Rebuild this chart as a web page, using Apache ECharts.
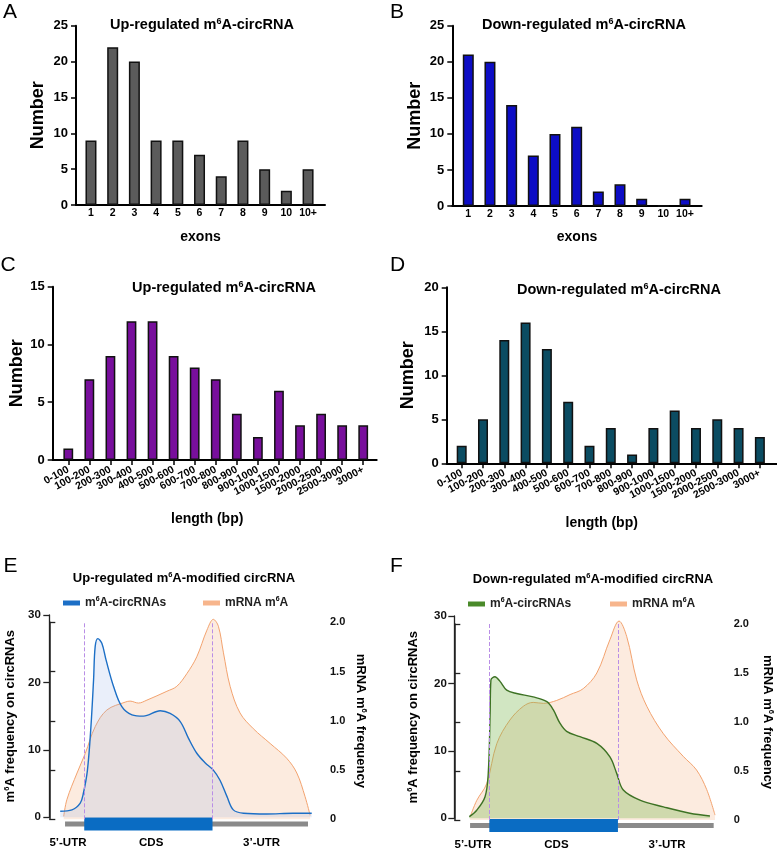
<!DOCTYPE html>
<html>
<head>
<meta charset="utf-8">
<script src="https://cdn.jsdelivr.net/npm/echarts@6/dist/echarts.min.js"></script>
<style>
html, body { margin: 0; padding: 0; background: #fff; }
#main { width: 777px; height: 851px; }
</style>
</head>
<body>
<div id="main"></div>
<script>
// exon number distribution
var exonCats = ['1', '2', '3', '4', '5', '6', '7', '8', '9', '10', '10+'];
var upExons = [9, 22, 20, 9, 9, 7, 4, 9, 5, 2, 5];
var downExons = [21, 20, 14, 7, 10, 11, 2, 3, 1, 0, 1];

// length distribution
var lenCats = ['0-100', '100-200', '200-300', '300-400', '400-500', '500-600', '600-700', '700-800',
  '800-900', '900-1000', '1000-1500', '1500-2000', '2000-2500', '2500-3000', '3000+'];
var upLength = [1, 7, 9, 12, 12, 9, 8, 7, 4, 2, 6, 3, 4, 3, 3];
var downLength = [2, 5, 14, 16, 13, 7, 2, 4, 1, 4, 6, 4, 5, 4, 3];

// metagene profiles, x = relative position along the transcript (0-100)
var upCircX = [4.1, 8.5, 11.6, 12.8, 14.3, 15.6, 16.6, 17.2, 18.2, 19.7, 21.3, 24.1, 27.2, 31, 35.3, 41.6, 45.3, 49.1, 52.2, 55.3, 58.4, 61.5, 64, 66.6, 69, 72.8, 81.5, 91.4, 98.4];
var upCircY = [0.9, 1.1, 2.1, 3.6, 7, 13.4, 20.4, 25.3, 26.5, 25.8, 23.3, 19.4, 16.4, 15.2, 15.0, 15.8, 15.4, 14.2, 11.7, 9.5, 8.1, 7.0, 5.5, 3.1, 1.1, 0.6, 0.5, 0.6, 0.6];
var upMrnaX = [5.4, 6.6, 10.4, 13.5, 17.2, 21.6, 28.5, 30.3, 33.4, 36.6, 44.1, 47.8, 51.6, 55.3, 59.1, 61.5, 63.4, 65.3, 67.8, 71.5, 76.5, 82.8, 89, 92.8, 95.9, 97.8];
var upMrnaY = [0.03, 0.2, 0.47, 0.67, 0.94, 1.11, 1.19, 1.20, 1.18, 1.21, 1.30, 1.35, 1.48, 1.65, 1.92, 2.03, 1.96, 1.69, 1.35, 1.08, 0.92, 0.77, 0.62, 0.47, 0.23, 0.04];
var downCircX = [5.6, 8.4, 11.5, 12.7, 13.4, 13.7, 15.2, 17.1, 19.6, 23.3, 29.5, 34.6, 37, 39.5, 42, 47, 53.3, 58.2, 60.7, 63.2, 69.4, 78.2, 88.1, 95.6];
var downCircY = [0.24, 1.2, 3.2, 6.7, 15.6, 20.5, 21.0, 20.3, 19.0, 18.5, 18.0, 17.3, 16.1, 14.1, 12.9, 12.1, 11.1, 9.1, 6.7, 4.2, 2.7, 1.7, 0.74, 0.34];
var downMrnaX = [5.9, 8.4, 12.1, 15.9, 20.8, 25.8, 29.5, 33.3, 38.3, 43.3, 48.2, 53.3, 58.2, 61.6, 64.5, 68.2, 72, 78.2, 85.6, 90.6, 94.4, 97.5];
var downMrnaY = [0.03, 0.2, 0.37, 0.78, 1.02, 1.16, 1.2, 1.19, 1.22, 1.28, 1.34, 1.50, 1.84, 2.03, 1.87, 1.43, 1.16, 0.88, 0.65, 0.51, 0.31, 0.05];

// transcript structure
var utrRange = [5.9, 97];
var cdsRange = [13.1, 61.2];
var geneLabels = ['5\u2019-UTR', 'CDS', '3\u2019-UTR'];
var geneLabelX = [7, 38.2, 79.6];

var FONT = '"Liberation Sans", Arial, Helvetica, sans-serif';
var myChart = echarts.init(document.getElementById('main'), null, { renderer: 'canvas' });

// superscript style for the "6" of m6A
function sup(size) {
  return { s: { fontSize: size, lineHeight: size, fontWeight: 'bold', fontFamily: FONT, color: '#000', verticalAlign: 'top' } };
}
function zip(xs, ys) {
  return xs.map(function (x, i) { return [x, ys[i]]; });
}
function seq(n) {
  var a = [];
  for (var i = 1; i <= n; i++) a.push(i);
  return a;
}

var option = {
  animation: false,
  backgroundColor: '#fff',
  textStyle: { fontFamily: FONT },
  grid: [],
  title: [],
  legend: [],
  xAxis: [],
  yAxis: [],
  series: []
};
function addGrid(g) {
  option.grid.push(g);
  return option.grid.length - 1;
}

// panel letters and titles
var letters = [['A', 3, 2], ['B', 390, 2], ['C', 0.5, 255], ['D', 390, 255], ['E', 3.5, 555.5], ['F', 390, 555.5]];
letters.forEach(function (l) {
  option.title.push({ text: l[0], left: l[1], top: l[2], padding: 0,
    textStyle: { fontSize: 21, fontWeight: 'normal', color: '#000', fontFamily: FONT } });
});
var titles = [
  ['Up-regulated m{s|6}A-circRNA', 202, 17, 14.5, 9, 16],
  ['Down-regulated m{s|6}A-circRNA', 584, 17, 14.5, 9, 16],
  ['Up-regulated m{s|6}A-circRNA', 224, 280, 14.5, 9, 16],
  ['Down-regulated m{s|6}A-circRNA', 619, 282, 14.5, 9, 16],
  ['Up-regulated m{s|6}A-modified circRNA', 184, 570.5, 13, 7.5, 15],
  ['Down-regulated m{s|6}A-modified circRNA', 593, 571.5, 13, 7.5, 15]
];
titles.forEach(function (t) {
  option.title.push({ text: t[0], left: t[1], top: t[2], textAlign: 'center', padding: 0,
    textStyle: { fontSize: t[3], lineHeight: t[5], fontWeight: 'bold', color: '#000', fontFamily: FONT, rich: sup(t[4]) } });
});

// histogram panels: value x axis for the bars; optional category axis (own grid) for rotated labels
function barPanel(box, cats, vals, color, barW, minX, maxX, maxY, opt) {
  var gi = addGrid(box);
  var ticks = seq(cats.length);
  var xi = option.xAxis.length, yi = option.yAxis.length;
  var ownLabels = !opt.rotate;
  option.xAxis.push({
    gridIndex: gi, type: 'value', min: minX, max: maxX, position: 'bottom',
    name: opt.xName, nameLocation: 'middle', nameGap: opt.xNameGap,
    nameTextStyle: { fontSize: 14, fontWeight: 'bold', color: '#000', padding: opt.xNamePad || 0 },
    axisLine: { show: true, lineStyle: { color: '#000', width: 2 } },
    axisTick: { show: false },
    splitLine: { show: false },
    axisLabel: {
      show: ownLabels, customValues: ticks, margin: opt.labelMargin,
      showMinLabel: true, showMaxLabel: true,
      fontSize: opt.labelSize, fontWeight: 'bold', color: '#000',
      formatter: function (v) { return cats[Math.round(v) - 1]; }
    }
  });
  option.yAxis.push({
    gridIndex: gi, type: 'value', min: 0, max: maxY, interval: 5,
    name: 'Number', nameLocation: 'middle', nameGap: opt.yNameGap,
    nameTextStyle: { fontSize: 18, fontWeight: 'bold', color: '#000' },
    axisLine: { show: true, lineStyle: { color: '#000', width: 2 } },
    axisTick: { show: true, length: 5, lineStyle: { color: '#000', width: 1.5 } },
    splitLine: { show: false },
    axisLabel: { fontSize: 13, fontWeight: 'bold', color: '#000', margin: 8 }
  });
  option.series.push({
    type: 'bar', xAxisIndex: xi, yAxisIndex: yi, barWidth: barW,
    data: vals.map(function (v, i) { return [i + 1, v]; }),
    itemStyle: { color: color, borderColor: '#111', borderWidth: 1.5 }
  });

  if (!ownLabels) {
    // band grid whose category centres coincide with the bar positions
    var band = box.width / (maxX - minX);
    var li = addGrid({
      left: box.left + (1 - minX) * band - band / 2, top: box.top,
      width: band * cats.length, height: box.height
    });
    option.xAxis.push({
      gridIndex: li, type: 'category', data: cats, position: 'bottom', boundaryGap: true,
      axisLine: { show: false },
      axisTick: { show: true, alignWithLabel: true, interval: 0, length: 5, lineStyle: { color: '#000', width: 1.5 } },
      axisLabel: { interval: 0, rotate: opt.rotate, margin: opt.labelMargin, fontSize: opt.labelSize, fontWeight: 'bold', color: '#000' },
      splitLine: { show: false }
    });
    option.yAxis.push({ gridIndex: li, type: 'value', min: 0, max: 1, show: false });
  }
}

barPanel({ left: 76, top: 25.7, width: 249, height: 179.3 }, exonCats, upExons, '#5b5b5b', 11, 0.31, 11.78, 25,
  { xName: 'exons', xNameGap: 25, labelMargin: 3, labelSize: 10.5, yNameGap: 29 });
barPanel({ left: 452.3, top: 25.7, width: 249.4, height: 180.3 }, exonCats, downExons, '#0d0dc5', 11, 0.262, 11.77, 25,
  { xName: 'exons', xNameGap: 24, labelMargin: 3, labelSize: 10.5, yNameGap: 28 });
barPanel({ left: 52.7, top: 286.7, width: 324, height: 173.3 }, lenCats, upLength, '#780f9c', 9.8, 0.26, 15.64, 15,
  { xName: 'length (bp)', xNameGap: 52, xNamePad: [0, 15, 0, 0], rotate: 28, labelMargin: 9, labelSize: 10.5, yNameGap: 25.5 });
barPanel({ left: 446.7, top: 287.3, width: 330, height: 176 }, lenCats, downLength, '#0b4c62', 10, 0.296, 15.79, 20,
  { xName: 'length (bp)', xNameGap: 53, xNamePad: [0, 20, 0, 0], rotate: 28, labelMargin: 9, labelSize: 10.5, yNameGap: 30 });

// metagene panels
var legendText = {
  upCirc: 'm{s|6}A-circRNAs', upMrna: 'mRNA m{s|6}A',
  downCirc: 'm{s|6}A-circRNAs', downMrna: 'mRNA m{s|6}A'
};

function metaPanel(boxL, boxR, boxG, circ, mrna, circName, mrnaName, colors, pos) {
  var gL = addGrid(boxL), gR = addGrid(boxR), gG = addGrid(boxG);
  var xL = option.xAxis.length, xR = xL + 1, xG = xL + 2;
  var yL = option.yAxis.length, yR = yL + 1, yG = yL + 2;
  var hiddenX = function (gi) {
    return { gridIndex: gi, type: 'value', min: 0, max: 100, show: false };
  };
  option.xAxis.push(hiddenX(gL), hiddenX(gR));
  option.xAxis.push({
    gridIndex: gG, type: 'value', min: 0, max: 100,
    axisLine: { show: false }, axisTick: { show: false }, splitLine: { show: false },
    axisLabel: {
      customValues: geneLabelX, margin: pos.geneMargin, fontSize: 11.5, fontWeight: 'bold', color: '#000',
      showMinLabel: true, showMaxLabel: true,
      formatter: function (v) {
        var best = 0;
        geneLabelX.forEach(function (x, i) { if (Math.abs(x - v) < Math.abs(geneLabelX[best] - v)) best = i; });
        return geneLabels[best];
      }
    }
  });
  option.yAxis.push({
    gridIndex: gL, type: 'value', min: 0, max: 30, interval: 10, position: 'left',
    name: 'm{s|6}A frequency on circRNAs', nameLocation: 'middle', nameGap: pos.leftGap,
    nameTextStyle: { fontSize: 13, lineHeight: 15, fontWeight: 'bold', color: '#000', rich: sup(7.5) },
    axisLine: { show: true, lineStyle: { color: '#222', width: 1.3 } },
    axisTick: { show: true, length: 6, lineStyle: { color: '#222', width: 1.3 } },
    splitLine: { show: false },
    axisLabel: { fontSize: 11.5, fontWeight: 'bold', color: '#111', margin: pos.leftMargin }
  });
  option.yAxis.push({
    gridIndex: gR, type: 'value', min: 0, max: 2, interval: 0.5, position: 'right',
    name: 'mRNA m{s|6}A frequency', nameLocation: 'middle', nameGap: pos.rightGap, nameRotate: -90,
    nameTextStyle: { fontSize: 13, lineHeight: 15, fontWeight: 'bold', color: '#000', rich: sup(7.5) },
    axisLine: { show: true, lineStyle: { color: '#222', width: 1.5 } },
    axisTick: { show: true, length: 6, lineStyle: { color: '#222', width: 1.3 } },
    splitLine: { show: false },
    axisLabel: {
      fontSize: 11, fontWeight: 'bold', color: '#111', margin: pos.rightMargin,
      formatter: function (v) { return v === 0 ? '0' : v.toFixed(1); }
    }
  });
  option.yAxis.push({ gridIndex: gG, type: 'value', min: 0, max: 1, show: false });

  option.series.push({
    type: 'line', name: mrnaName, xAxisIndex: xR, yAxisIndex: yR, data: mrna,
    smooth: 0.35, symbol: 'none', clip: false, z: 2,
    itemStyle: { color: '#f7b58c' },
    lineStyle: { color: '#f3a36f', width: 1 },
    areaStyle: { color: 'rgba(246,193,155,0.45)' },
    markLine: {
      silent: true, symbol: 'none', label: { show: false },
      lineStyle: { type: 'dashed', color: '#b98ee6', width: 1 },
      data: [{ xAxis: cdsRange[0] }, { xAxis: cdsRange[1] }]
    }
  });
  option.series.push({
    type: 'line', name: circName, xAxisIndex: xL, yAxisIndex: yL, data: circ,
    smooth: 0.35, symbol: 'none', z: 3,
    itemStyle: { color: colors.icon },
    lineStyle: { color: colors.line, width: 1.4 },
    areaStyle: { color: colors.fill }
  });
  option.series.push({
    type: 'line', xAxisIndex: xG, yAxisIndex: yG, symbol: 'none', silent: true,
    data: [[utrRange[0], 0.5], [utrRange[1], 0.5]],
    lineStyle: { color: '#8a8a8a', width: 5 }
  });
  option.series.push({
    type: 'line', xAxisIndex: xG, yAxisIndex: yG, symbol: 'none', silent: true,
    data: [[cdsRange[0], 0.5], [cdsRange[1], 0.5]],
    lineStyle: { color: '#0a6cc3', width: 13 }
  });

  var legendBase = {
    padding: 0, icon: 'rect', itemWidth: 17, itemHeight: 5, selectedMode: false,
    itemStyle: { borderWidth: 0 },
    textStyle: { fontSize: 12, lineHeight: 14, fontWeight: 'bold', color: '#222', rich: sup(7) },
    formatter: function (n) { return legendText[n]; }
  };
  option.legend.push(Object.assign({}, legendBase, {
    left: pos.leg1, top: pos.legTop, data: [{ name: circName, itemStyle: { color: colors.icon } }]
  }));
  option.legend.push(Object.assign({}, legendBase, {
    left: pos.leg2, top: pos.legTop, data: [{ name: mrnaName, itemStyle: { color: '#f7b58c' } }]
  }));
}

metaPanel(
  { left: 49.3, top: 615, width: 266.7, height: 202.3 },
  { left: 49.3, top: 622.3, width: 266.7, height: 197 },
  { left: 49.3, top: 814, width: 266.7, height: 20 },
  zip(upCircX, upCircY), zip(upMrnaX, upMrnaY), 'upCirc', 'upMrna',
  { line: '#1c6fc6', icon: '#1c6fc6', fill: 'rgba(150,175,230,0.28)' },
  { leftGap: 31, rightGap: 37.5, leftMargin: 8.5, rightMargin: 14, geneMargin: 3, leg1: 63, leg2: 203, legTop: 596 });
metaPanel(
  { left: 454.3, top: 616, width: 267.4, height: 202.3 },
  { left: 454.3, top: 624, width: 267.4, height: 196 },
  { left: 454.3, top: 815.5, width: 267.4, height: 20 },
  zip(downCircX, downCircY), zip(downMrnaX, downMrnaY), 'downCirc', 'downMrna',
  { line: '#3d7224', icon: '#4a8a2a', fill: 'rgba(125,185,81,0.5)' },
  { leftGap: 33, rightGap: 38.5, leftMargin: 7.5, rightMargin: 12, geneMargin: 3.5, leg1: 468, leg2: 610, legTop: 597 });

myChart.setOption(option);
</script>
</body>
</html>
